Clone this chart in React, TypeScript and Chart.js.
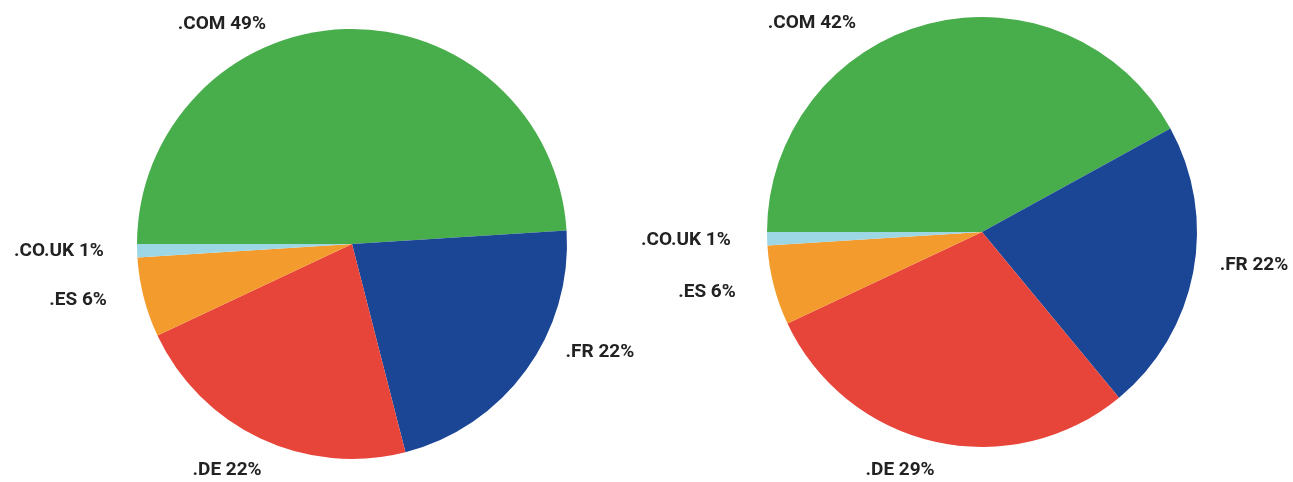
import React, { useEffect, useRef } from "react";
import { Chart, registerables } from "chart.js";

Chart.register(...registerables);

// ---- data ----
const categories = [".COM", ".FR", ".DE", ".ES", ".CO.UK"];
const leftValues = [49, 22, 22, 6, 1];
const rightValues = [42, 22, 29, 6, 1];
const sliceColors = ["#48ad4b", "#1b4595", "#e8453a", "#f39b2d", "#9dd6e5"];

// ---- layout (label anchors relative to the pie centre, in radius units) ----
const leftLabelOffsets: [number, number][] = [
  [-0.605, -1.023],
  [1.153, 0.502],
  [-0.581, 1.051],
  [-1.274, 0.26],
  [-1.363, 0.033],
];
const rightLabelOffsets: [number, number][] = [
  [-0.791, -0.972],
  [1.265, 0.153],
  [-0.381, 1.107],
  [-1.279, 0.279],
  [-1.377, 0.037],
];

const labelPlugin = (offsets: [number, number][]) => ({
  id: "outerLabels",
  afterDatasetsDraw(chart: any) {
    const ctx = chart.ctx;
    const meta = chart.getDatasetMeta(0);
    const data = chart.data.datasets[0].data as number[];
    ctx.save();
    ctx.font = "bold 19px Roboto";
    ctx.fillStyle = "#222222";
    ctx.textAlign = "center";
    ctx.textBaseline = "middle";
    meta.data.forEach((arc: any, i: number) => {
      const { x, y, outerRadius } = arc.getProps(["x", "y", "outerRadius"], true);
      const [ox, oy] = offsets[i];
      const text = `${chart.data.labels[i]} ${data[i]}%`;
      ctx.fillText(text, x + ox * outerRadius, y + oy * outerRadius);
    });
    ctx.restore();
  },
});

type PieProps = {
  values: number[];
  offsets: [number, number][];
  left: number;
  width: number;
  padding: { left: number; right: number; top: number; bottom: number };
};

function PieChart({ values, offsets, left, width, padding }: PieProps) {
  const ref = useRef<HTMLCanvasElement | null>(null);
  useEffect(() => {
    if (!ref.current) return;
    const chart = new Chart(ref.current, {
      type: "pie",
      data: {
        labels: categories,
        datasets: [
          {
            data: values,
            backgroundColor: sliceColors,
            borderWidth: 0,
          },
        ],
      },
      options: {
        animation: false,
        responsive: true,
        maintainAspectRatio: false,
        rotation: -90,
        layout: { padding },
        plugins: {
          legend: { display: false },
          tooltip: { enabled: false },
        },
      },
      plugins: [labelPlugin(offsets)],
    });
    return () => chart.destroy();
  }, []);
  return (
    <div
      style={{
        position: "absolute",
        left,
        top: 0,
        width,
        height: 482,
      }}
    >
      <canvas ref={ref} />
    </div>
  );
}

export default function App() {
  return (
    <div
      style={{
        position: "fixed",
        left: 0,
        top: 0,
        width: 1293,
        height: 482,
        background: "#ffffff",
      }}
    >
      <PieChart
        values={leftValues}
        offsets={leftLabelOffsets}
        left={0}
        width={660}
        padding={{ left: 137, right: 93, top: 29, bottom: 23 }}
      />
      <PieChart
        values={rightValues}
        offsets={rightLabelOffsets}
        left={600}
        width={693}
        padding={{ left: 167, right: 96, top: 17, bottom: 35 }}
      />
    </div>
  );
}
